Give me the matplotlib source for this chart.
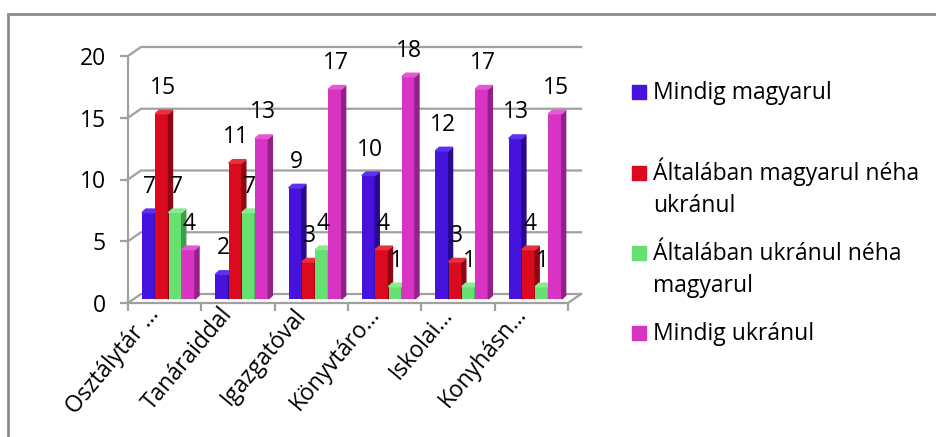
import numpy as np
import matplotlib
matplotlib.use("Agg")
import matplotlib.pyplot as plt
from matplotlib.patches import Polygon, Rectangle
from matplotlib.lines import Line2D

plt.rcParams['font.family'] = ['Open Sans', 'DejaVu Sans']

categories = ["Osztálytár …", "Tanáraiddal", "Igazgatóval",
              "Könyvtáro…", "Iskolai…", "Konyhásn…"]
series = ["Mindig magyarul",
          "Általában magyarul néha\nukránul",
          "Általában ukránul néha\nmagyarul",
          "Mindig ukránul"]
mindig_magyarul = [7, 2, 9, 10, 12, 13]
altalaban_magyarul = [15, 11, 3, 4, 3, 4]
altalaban_ukranul = [7, 7, 4, 1, 1, 1]
mindig_ukranul = [4, 13, 17, 18, 17, 15]
values = [mindig_magyarul, altalaban_magyarul, altalaban_ukranul, mindig_ukranul]
yticks = [0, 5, 10, 15, 20]

front = ["#4612DE", "#DC0A1E", "#66E070", "#D834C4"]
side = ["#2A0A8C", "#8E0612", "#3E9E4A", "#92228A"]
top = ["#5E30F0", "#E83040", "#86EC8E", "#E458D4"]
gray = "#A0A0A0"
fs = 16.5

W, H = 936, 437
fig = plt.figure(figsize=(W / 100, H / 100), dpi=100)

# plot area in pixels: front axis x 128..568, y 303 (0) .. 56 (20)
ax = fig.add_axes([128 / W, (H - 303) / H, 440 / W, 247 / H])
ncat = len(categories)
ax.set_xlim(0, ncat)
ax.set_ylim(0, 20)
sx = 440 / ncat      # px per category
sy = 247 / 20        # px per unit
px = 1 / sx
py = 1 / sy

for s in ["top", "right", "bottom"]:
    ax.spines[s].set_visible(False)
ax.spines["left"].set_color(gray)
ax.spines["left"].set_linewidth(1.6)

ax.set_yticks(yticks)
ax.tick_params(axis="y", length=6, width=1.6, color=gray, pad=10, labelsize=fs)
ax.set_xticks(np.arange(ncat) + 0.5)
ax.set_xticklabels(categories, rotation=50, ha="right")
ax.tick_params(axis="x", length=0, pad=0, labelsize=fs)
ax.set_xticks(np.arange(ncat + 1), minor=True)
ax.tick_params(axis="x", which="minor", length=6, width=1.6, color=gray)

# back wall grid and left wall diagonals
gdx, gdy = 13 * px, 9 * py
for v in yticks:
    ax.add_line(Line2D([0, gdx, ncat + gdx], [v, v + gdy, v + gdy],
                       color=gray, lw=1.6, clip_on=False, zorder=1))
# floor front edge and right edge
ax.add_line(Line2D([0, ncat, ncat + gdx], [0, 0, gdy],
                   color=gray, lw=1.6, clip_on=False, zorder=1))

# 3D-looking columns
bw = 13.25 * px
off = 14 * px
lift = 4 * py
ddx, ddy = 4 * px, 3.5 * py
for j, vals in enumerate(values):
    for i, v in enumerate(vals):
        x0 = i + off + j * bw
        ax.bar(x0, v, width=bw, bottom=lift, align="edge", color=front[j],
               zorder=2 + j, clip_on=False)
        ax.add_patch(Polygon([(x0 + bw, lift), (x0 + bw, lift + v),
                              (x0 + bw + ddx, lift + v + ddy),
                              (x0 + bw + ddx, lift + ddy)],
                             closed=True, color=side[j], zorder=2 + j, clip_on=False))
        ax.add_patch(Polygon([(x0, lift + v), (x0 + bw, lift + v),
                              (x0 + bw + ddx, lift + v + ddy),
                              (x0 + ddx, lift + v + ddy)],
                             closed=True, color=top[j], zorder=2 + j, clip_on=False))
        ax.text(x0 + bw / 2 + 1 * px, v + lift + 26 * py, str(v), ha="center",
                va="center", fontsize=fs, color="black", zorder=10, clip_on=False)

# legend
for k, name in enumerate(series):
    yc = [92, 173, 253, 333][k]
    fig.add_artist(Rectangle((632 / W, (H - yc - 7) / H), 14 / W, 14 / H,
                             transform=fig.transFigure, color=front[k]))
    for n, line in enumerate(name.split("\n")):
        fig.text(653 / W, (H - yc - 7 - 32 * n) / H, line, ha="left",
                 va="baseline", fontsize=fs)

# chart frame
fig.add_artist(Rectangle((8 / W, -0.2), 1.2, (H - 14) / H + 0.2,
                         transform=fig.transFigure, fill=False,
                         edgecolor="#8C8C8C", lw=2))

fig.savefig("out.png", dpi=100)
